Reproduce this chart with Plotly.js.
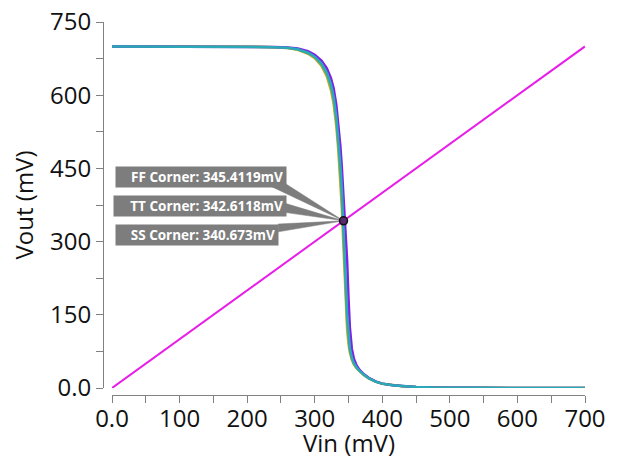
<!DOCTYPE html>
<html>
<head>
<meta charset="utf-8">
<script src="https://cdn.plot.ly/plotly-3.0.1.min.js"></script>
<style>html,body{margin:0;padding:0;background:#fff;}#chart{width:627px;height:459px;}</style>
</head>
<body>
<div id="chart"></div>
<script>
// ---- data ----
const vin = [0, 50, 100, 150, 200, 240, 260, 275, 290, 300, 310, 318, 324, 328, 332, 335, 338, 340, 342, 344, 346, 348, 350, 352, 355, 358, 362, 367, 373, 380, 390, 400, 415, 430, 450, 475, 500, 550, 600, 650, 700];
const voutFF = [700, 700, 700, 699.9, 699.6, 698.8, 697.6, 695.5, 690, 683, 671, 655, 635, 614, 580, 543, 495, 455, 410, 370, 325, 260, 185, 125, 80, 60, 46, 36, 28, 21, 13.5, 9, 5.5, 3.5, 2, 1, 0.6, 0.3, 0.1, 0.05, 0.02];
const voutSS = [700, 700, 700, 699.9, 699.4, 698.2, 696.5, 693, 685, 676, 660, 638, 610, 582, 535, 485, 420, 370, 305, 230, 165, 118, 90, 72, 57, 48, 40, 33, 26, 19.5, 13, 8.5, 5.3, 3.4, 2, 1, 0.6, 0.3, 0.1, 0.05, 0.02];
const voutFS = [700, 700, 700, 699.9, 699.4, 698.3, 696.8, 693.5, 686, 677.5, 662, 642, 616, 590, 545, 498, 438, 390, 330, 260, 190, 135, 100, 78, 60, 50, 41, 33.5, 26.5, 19.8, 13, 8.8, 5.4, 3.5, 2, 1, 0.6, 0.3, 0.1, 0.05, 0.02];
const voutTT = [700, 700, 700, 699.9, 699.5, 698.5, 697, 694, 687, 679, 665, 646, 622, 597, 555, 510, 455, 410, 355, 290, 215, 150, 108, 82, 62, 51, 42, 34, 27, 20, 13, 9, 5.5, 3.5, 2, 1, 0.6, 0.3, 0.1, 0.05, 0.02];
const refX = [0, 700];
const refY = [0, 700];
const crossX = [342.6];
const crossY = [342.6];
const labels = ["FF Corner: 345.4119mV", "TT Corner: 342.6118mV", "SS Corner: 340.673mV"];
const labelX = [4.4, 2.0, 4.4];
const labelY = [432.4, 372.9, 313.5];
const labelW = [164, 166, 156];
const wedgeBaseX = [[234, 253], [250, 250], [246, 246]];
const wedgeBaseY = [[414, 422], [381, 361], [336, 320]];
const xTickVals = [0, 100, 200, 300, 400, 500, 600, 700];
const xTickText = ["0.0", "100", "200", "300", "400", "500", "600", "700"];
const yTickVals = [0, 150, 300, 450, 600, 750];
const yTickText = ["0.0", "150", "300", "450", "600", "750"];
const xTitle = 'Vin (mV)';
const yTitle = 'Vout (mV)';

// ---- styling ----
const grey = '#7d7d7d';
const traces = [];
wedgeBaseX.forEach((bx, i) => {
  traces.push({
    x: [bx[0], crossX[0], bx[1], bx[0]],
    y: [wedgeBaseY[i][0], crossY[0], wedgeBaseY[i][1], wedgeBaseY[i][0]],
    mode: 'lines', fill: 'toself', fillcolor: grey,
    line: {color: grey, width: 0.5}, hoverinfo: 'skip', showlegend: false
  });
});
const series = [
  {y: voutSS, c: '#f0a030'},
  {y: voutFS, c: '#6cb64a'},
  {y: voutFF, c: '#7f22e6'},
  {y: voutTT, c: '#2aa9b8'}
];
series.forEach(s => traces.push({x: vin, y: s.y, mode: 'lines', line: {color: s.c, width: 2.5}, showlegend: false}));
traces.push({x: refX, y: refY, mode: 'lines', line: {color: '#e81ee8', width: 2}, showlegend: false});
traces.push({x: crossX, y: crossY, mode: 'markers', marker: {size: 8, color: '#5a2a70', line: {color: '#111', width: 1.5}}, showlegend: false});

const annotations = labels.map((t, i) => ({
  x: labelX[i], y: labelY[i], xref: 'x', yref: 'y', xanchor: 'left', yanchor: 'middle',
  text: t, showarrow: false, bgcolor: grey, borderpad: 3, width: labelW[i], height: 14, align: 'right',
  font: {family: 'Open Sans', size: 13.5, color: '#ffffff', weight: 'bold'}
}));
const xAxisPos = 0.1055;
annotations.push({
  x: 0.5114, y: xAxisPos, xref: 'paper', yref: 'paper', xanchor: 'center', yanchor: 'middle', yshift: -47,
  borderpad: 0,
  text: xTitle, showarrow: false, font: {family: 'Open Sans', size: 24, color: '#111'}
});

const tickFont = {family: 'Open Sans', size: 24, color: '#111'};
const layout = {
  width: 627, height: 459,
  margin: {l: 103, r: 42, t: 22, b: 20},
  paper_bgcolor: '#fff', plot_bgcolor: '#fff',
  showlegend: false,
  xaxis: {
    range: [0, 700], domain: [0.0187, 1], anchor: 'free', position: xAxisPos,
    showgrid: false, zeroline: false, showline: true, linecolor: '#808080', linewidth: 1,
    ticks: 'outside', ticklen: 7, tickcolor: '#808080', tickwidth: 1,
    tickvals: xTickVals, ticktext: xTickText, tickfont: tickFont, ticklabelstandoff: -5,
    minor: {dtick: 50, tick0: 0, ticks: 'outside', ticklen: 7, tickcolor: '#808080', showgrid: false}
  },
  yaxis: {
    range: [0, 750], domain: [0.1223, 1], anchor: 'free', position: 0,
    showgrid: false, zeroline: false, showline: true, linecolor: '#808080', linewidth: 1,
    ticks: 'outside', ticklen: 7, tickcolor: '#808080', tickwidth: 1,
    tickvals: yTickVals, ticktext: yTickText, tickfont: tickFont,
    minor: {dtick: 75, tick0: 0, ticks: 'outside', ticklen: 7, tickcolor: '#808080', showgrid: false},
    title: {text: yTitle, font: {family: 'Open Sans', size: 24, color: '#111'}, standoff: 8}
  },
  annotations: annotations
};
Plotly.newPlot('chart', traces, layout, {staticPlot: true});
</script>
</body>
</html>
